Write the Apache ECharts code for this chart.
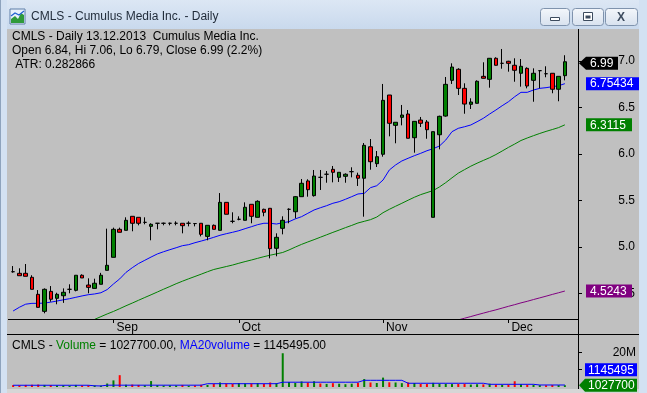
<!DOCTYPE html>
<html><head><meta charset="utf-8">
<script src="https://cdn.jsdelivr.net/npm/echarts@6/dist/echarts.min.js"></script>
<style>html,body{margin:0;padding:0;background:#c0c0c0;overflow:hidden}#c{width:647px;height:393px}</style>
</head><body><div id="c"></div>
<script>
const dates = [
'2013-08-09','2013-08-12','2013-08-13','2013-08-14','2013-08-15','2013-08-16','2013-08-19','2013-08-20','2013-08-21','2013-08-22','2013-08-23','2013-08-26','2013-08-27','2013-08-28','2013-08-29','2013-08-30',
'2013-09-03','2013-09-04','2013-09-05','2013-09-06','2013-09-09','2013-09-10','2013-09-11','2013-09-12','2013-09-13','2013-09-16','2013-09-17','2013-09-18','2013-09-19','2013-09-20','2013-09-23','2013-09-24','2013-09-25','2013-09-26','2013-09-27','2013-09-30',
'2013-10-01','2013-10-02','2013-10-03','2013-10-04','2013-10-07','2013-10-08','2013-10-09','2013-10-10','2013-10-11','2013-10-14','2013-10-15','2013-10-16','2013-10-17','2013-10-18','2013-10-21','2013-10-22','2013-10-23','2013-10-24','2013-10-25','2013-10-28','2013-10-29','2013-10-30','2013-10-31',
'2013-11-01','2013-11-04','2013-11-05','2013-11-06','2013-11-07','2013-11-08','2013-11-11','2013-11-12','2013-11-13','2013-11-14','2013-11-15','2013-11-18','2013-11-19','2013-11-20','2013-11-21','2013-11-22','2013-11-25','2013-11-26','2013-11-27','2013-11-29',
'2013-12-02','2013-12-03','2013-12-04','2013-12-05','2013-12-06','2013-12-09','2013-12-10','2013-12-11','2013-12-12','2013-12-13'];

const opens = [4.732,4.715,4.715,4.672,4.489,4.306,4.521,4.446,4.474,4.543,4.532,4.694,4.589,4.553,4.597,4.747,
4.887,5.188,5.177,5.328,5.317,5.263,5.220,5.253,5.253,5.253,5.253,5.253,5.253,5.250,5.253,5.112,5.231,5.177,5.478,5.274,
5.296,5.285,5.457,5.317,5.403,5.414,4.984,5.199,5.403,5.377,5.539,5.708,5.550,5.747,5.780,5.833,5.747,5.758,5.808,5.769,5.737,6.076,5.894,
5.995,6.632,6.306,6.392,6.428,6.173,6.363,6.342,5.317,6.205,6.406,6.790,6.909,6.704,6.532,6.543,6.833,6.801,7.027,6.973,
6.995,6.952,6.866,6.919,6.790,6.894,6.861,6.866,6.694,6.84];
const highs = [4.793,4.769,4.815,4.694,4.535,4.553,4.578,4.506,4.553,4.597,4.694,4.704,4.661,4.657,4.720,5.195,
5.206,5.206,5.317,5.328,5.317,5.317,5.253,5.253,5.260,5.260,5.274,5.253,5.274,5.253,5.253,5.231,5.240,5.578,5.478,5.371,
5.328,5.478,5.457,5.500,5.410,5.414,5.145,5.328,5.414,5.545,5.729,5.726,5.826,5.826,5.815,5.869,5.801,5.790,5.855,5.797,6.116,6.159,6.030,
6.751,6.632,6.340,6.525,6.471,6.349,6.396,6.363,6.238,6.410,6.826,6.973,6.920,6.758,6.597,6.790,6.984,7.030,7.038,7.127,
7.000,7.027,7.019,6.930,6.919,6.900,6.941,6.866,6.833,7.06];
const lows = [4.722,4.689,4.683,4.543,4.349,4.285,4.410,4.382,4.397,4.500,4.521,4.665,4.500,4.553,4.597,4.747,
4.887,5.156,5.177,5.167,5.231,5.242,5.070,5.188,5.231,5.231,5.231,5.145,5.220,5.220,5.112,5.070,5.188,5.177,5.350,5.253,
5.285,5.285,5.253,5.317,5.328,4.876,4.898,5.134,5.253,5.306,5.539,5.539,5.540,5.611,5.689,5.693,5.697,5.689,5.747,5.654,5.324,5.829,5.858,
5.969,6.188,6.113,6.306,6.167,6.012,6.288,6.162,5.317,6.048,6.399,6.751,6.632,6.431,6.482,6.540,6.810,6.711,6.950,6.915,
6.883,6.775,6.722,6.704,6.560,6.704,6.823,6.651,6.565,6.79];
const closes = [4.732,4.689,4.683,4.543,4.349,4.543,4.436,4.489,4.511,4.543,4.694,4.665,4.564,4.608,4.694,4.801,
5.188,5.156,5.285,5.253,5.253,5.263,5.242,5.253,5.253,5.253,5.253,5.227,5.253,5.250,5.134,5.231,5.188,5.478,5.350,5.274,
5.296,5.425,5.328,5.489,5.371,4.980,5.102,5.285,5.403,5.539,5.683,5.614,5.761,5.747,5.780,5.801,5.801,5.780,5.808,5.737,6.091,5.915,5.969,
6.575,6.328,6.339,6.417,6.167,6.349,6.328,6.259,6.238,6.403,6.747,6.933,6.704,6.535,6.557,6.780,6.812,7.027,6.952,6.973,
6.973,6.898,6.941,6.729,6.866,6.894,6.861,6.694,6.833,6.99];

const ma20 = [4.31,4.35,4.383,4.392,4.392,4.395,4.405,4.417,4.43,4.442,4.457,4.472,4.485,4.493,4.506,4.54,
4.60,4.655,4.725,4.775,4.82,4.855,4.89,4.923,4.947,4.969,4.99,5.012,5.023,5.044,5.062,5.081,5.102,5.124,5.141,5.156,
5.173,5.195,5.216,5.238,5.253,5.253,5.245,5.259,5.27,5.30,5.324,5.36,5.396,5.42,5.442,5.468,5.485,5.511,5.539,5.568,5.575,5.636,5.657,
5.718,5.826,5.88,5.923,5.952,5.98,6.005,6.033,6.055,6.084,6.148,6.238,6.274,6.291,6.31,6.345,6.382,6.428,6.471,6.517,
6.56,6.614,6.661,6.661,6.686,6.704,6.711,6.722,6.732,6.75434];
const ma50Start = 13;
const ma50Values = [4.22,4.249,4.278,
4.305,4.335,4.366,4.395,4.425,4.455,4.484,4.514,4.544,4.573,4.603,4.63,4.656,4.681,4.706,4.732,4.756,4.772,4.788,4.804,
4.823,4.841,4.858,4.876,4.894,4.91,4.924,4.939,4.966,4.997,5.026,5.052,5.077,5.103,5.129,5.155,5.18,5.206,5.23,5.256,5.274,5.292,5.32,
5.367,5.403,5.436,5.468,5.501,5.533,5.561,5.583,5.605,5.644,5.69,5.742,5.792,5.83,5.867,5.899,5.929,5.958,5.992,6.03,
6.069,6.105,6.143,6.17,6.195,6.219,6.241,6.261,6.282,6.3115];
const ma200Start = 71;
const ma200Values = [4.214,4.232,4.25,4.269,4.287,4.305,4.322,4.341,4.36,4.378,4.397,4.414,4.433,4.451,4.469,4.488,4.506,4.5243];

const volumes = [1.1,1.0,1.2,1.3,1.4,1.2,1.1,0.9,1.0,0.8,1.2,0.9,1.0,0.9,0.8,2.0,
3.8,6.8,1.3,1.4,1.2,1.0,3.4,1.1,0.9,1.0,0.9,1.2,0.8,0.9,1.3,1.2,1.9,2.6,2.1,1.8,
2.3,2.0,2.1,2.3,1.8,2.6,2.2,19.4,2.9,2.4,3.2,2.6,3.3,2.0,1.8,2.2,1.9,1.6,1.9,2.4,4.6,2.6,2.3,
5.4,2.7,2.6,2.2,2.6,2.3,1.8,1.7,2.4,2.0,1.9,1.7,1.8,1.9,1.4,1.6,1.5,1.9,1.4,1.3,
1.5,3.3,1.6,1.4,1.3,1.1,1.0,1.2,1.1,1.0277];
const volMa20 = [1.0,1.0,1.0,1.0,1.0,1.0,1.0,1.0,1.0,1.0,1.0,1.0,1.0,0.7,0.6,1.05,
1.05,1.05,1.05,1.05,1.05,1.05,1.05,1.05,1.05,1.05,1.05,1.05,1.05,1.05,1.05,1.9,1.9,1.9,1.9,1.9,
1.9,1.9,1.9,1.9,1.9,1.9,1.9,2.75,2.75,2.75,2.75,2.75,2.75,2.75,2.75,2.75,2.75,2.75,2.75,2.75,3.85,3.85,3.85,
3.85,3.85,3.85,3.85,2.15,2.15,2.15,2.15,2.15,2.15,2.15,2.15,2.15,2.15,2.15,2.15,2.15,1.55,1.55,1.55,
1.55,1.55,1.55,1.55,1.55,1.15,1.15,1.15,1.15,1.145495];

const priceTicks = [4.5,5.0,5.5,6.0,6.5,7.0];
const volTicks = [10,20];
const volLabels = [20];
const monthStarts = ['2013-09-03','2013-10-01','2013-11-01','2013-12-02'];
const monthNames = ['Sep','Oct','Nov','Dec'];

const FONT = 'Liberation Sans, Arial, sans-serif';
const ma50 = new Array(ma50Start).fill(null).concat(ma50Values);
const ma200 = new Array(ma200Start).fill(null).concat(ma200Values);
const candles = dates.map((d,i)=>[opens[i],closes[i],lows[i],highs[i]]);
const volData = volumes.map((v,i)=>{
  let up;
  if (closes[i] !== opens[i]) up = closes[i] > opens[i];
  else up = i > 0 ? closes[i] >= closes[i-1] : false;
  return {value: v, itemStyle:{color: up ? '#008000' : '#ff0000'}};
});

const chart = echarts.init(document.getElementById('c'));
const isMonth = (i, v) => monthStarts.indexOf(v) >= 0;
chart.setOption({
  animation:false,
  backgroundColor:'#c0c0c0',
  grid:[
    {left:10, top:29, width:558, height:290},
    {left:10, top:334.5, width:558, height:52.5}
  ],
  xAxis:[
    {type:'category', gridIndex:0, data:dates, boundaryGap:true,
     axisLine:{show:false},
     axisTick:{show:true, alignWithLabel:true, interval:isMonth, length:4, lineStyle:{color:'#000'}},
     axisLabel:{interval:isMonth, formatter:v=>monthNames[monthStarts.indexOf(v)], align:'left', padding:[0,0,0,3], margin:3, color:'#000', fontSize:12, fontFamily:FONT},
     splitLine:{show:false}},
    {type:'category', gridIndex:1, data:dates, boundaryGap:true,
     axisLine:{show:false}, axisTick:{show:false}, axisLabel:{show:false}, splitLine:{show:false}}
  ],
  yAxis:[
    {type:'value', gridIndex:0, position:'right', offset:10, min:4.2237, max:7.342, scale:true,
     axisLine:{show:false}, splitLine:{show:false},
     axisTick:{show:true, customValues:priceTicks, length:4, lineStyle:{color:'#000'}},
     axisLabel:{customValues:priceTicks, formatter:v=>v.toFixed(1), align:'right', margin:57, color:'#000', fontSize:12, fontFamily:FONT}},
    {type:'value', gridIndex:1, position:'right', offset:10, min:0, max:30.17,
     axisLine:{show:false}, splitLine:{show:false},
     axisTick:{show:true, customValues:volTicks, length:4, lineStyle:{color:'#000'}},
     axisLabel:{customValues:volLabels, formatter:v=>v+'M', align:'right', margin:58, color:'#000', fontSize:12, fontFamily:FONT}}
  ],
  series:[
    {type:'line', name:'MA20', xAxisIndex:0, yAxisIndex:0, data:ma20, symbol:'none', z:2, lineStyle:{color:'#0000ff', width:1}},
    {type:'line', name:'MA50', xAxisIndex:0, yAxisIndex:0, data:ma50, symbol:'none', z:2, lineStyle:{color:'#008000', width:1}},
    {type:'line', name:'MA200', xAxisIndex:0, yAxisIndex:0, data:ma200, symbol:'none', z:2, lineStyle:{color:'#800080', width:1}},
    {type:'candlestick', xAxisIndex:0, yAxisIndex:0, data:candles, barWidth:4, z:3,
     itemStyle:{color:'#008000', color0:'#ff0000', borderColor:'#000', borderColor0:'#000', borderColorDoji:'#000', borderWidth:1}},
    {type:'bar', xAxisIndex:1, yAxisIndex:1, data:volData, barWidth:2, z:2},
    {type:'line', xAxisIndex:1, yAxisIndex:1, data:volMa20, symbol:'none', z:3, lineStyle:{color:'#0000ff', width:1}}
  ]
});

const yP = v => chart.convertToPixel({yAxisIndex:0}, v);
const yV = v => chart.convertToPixel({yAxisIndex:1}, v);
const G = [];
// window chrome
G.push({type:'rect', shape:{x:0,y:0,width:647,height:29}, z:-5,
  style:{fill:new echarts.graphic.LinearGradient(0,0,0,1,[{offset:0,color:'#dce7f4'},{offset:1,color:'#c9d9ed'}])}});
G.push({type:'rect', shape:{x:0,y:0,width:7,height:393}, z:-5, style:{fill:'#d3e1f2'}});
G.push({type:'rect', shape:{x:639,y:0,width:8,height:393}, z:-5, style:{fill:'#d3e1f2'}});
G.push({type:'rect', shape:{x:7,y:389,width:632,height:4}, z:-5, style:{fill:'#d6d6d6'}});
G.push({type:'line', shape:{x1:0.5,y1:0,x2:0.5,y2:393}, z:-4, style:{stroke:'#8ea3bd', lineWidth:1}});
// icon
G.push({type:'rect', shape:{x:10,y:9,width:15,height:15}, z:1, style:{fill:'#e8f0fb', stroke:'#5f7fa8', lineWidth:1}});
G.push({type:'polygon', shape:{points:[[11,23],[11,19],[15,16],[18,19],[21,13],[24,15],[24,23]]}, z:2, style:{fill:'#2f9a3a'}});
G.push({type:'polyline', shape:{points:[[11,16],[15,13],[19,15],[24,11]]}, z:2, style:{stroke:'#2060d0', lineWidth:1.2, fill:null}});
G.push({type:'text', x:31, y:17, z:5, style:{text:'CMLS - Cumulus Media Inc. - Daily', fill:'#1f2a38', font:'12px '+FONT, verticalAlign:'middle', textVerticalAlign:'middle'}});
// buttons
[[540,29],[572,31],[605,32]].forEach(([bx,bw])=>{
  G.push({type:'rect', shape:{x:bx+0.5,y:8.5,width:bw,height:17,r:3}, z:1,
    style:{fill:new echarts.graphic.LinearGradient(0,0,0,1,[{offset:0,color:'#f4f7fb'},{offset:1,color:'#d7e1ee'}]), stroke:'#7f93ad', lineWidth:1}});
});
G.push({type:'rect', shape:{x:550.5,y:17.5,width:9,height:3}, z:2, style:{fill:'#fff', stroke:'#3c4b5e', lineWidth:1}});
G.push({type:'rect', shape:{x:583.5,y:12.5,width:9,height:8}, z:2, style:{fill:'#fff', stroke:'#3c4b5e', lineWidth:1}});
G.push({type:'rect', shape:{x:585.5,y:15.5,width:5,height:3}, z:3, style:{fill:'#3c4b5e'}});
G.push({type:'text', x:621, y:17.5, z:2, style:{text:'X', fill:'#3c4b5e', font:'bold 12px '+FONT, align:'center', textAlign:'center', verticalAlign:'middle', textVerticalAlign:'middle'}});
// chart frame lines
G.push({type:'line', shape:{x1:8,y1:319.5,x2:578,y2:319.5}, z:10, style:{stroke:'#000', lineWidth:1}});
G.push({type:'line', shape:{x1:578.5,y1:29,x2:578.5,y2:389}, z:10, style:{stroke:'#000', lineWidth:1}});
G.push({type:'line', shape:{x1:7,y1:334.5,x2:639,y2:334.5}, z:10, style:{stroke:'#000', lineWidth:1}});
// price panel texts
const txt = (t,x,y)=>({type:'text', x, y, z:20, style:{text:t, fill:'#000', font:'12px '+FONT, verticalAlign:'middle', textVerticalAlign:'middle'}});
G.push(txt('CMLS - Daily 13.12.2013  Cumulus Media Inc.', 12, 37));
G.push(txt('Open '+opens[88].toFixed(2)+', Hi '+highs[88].toFixed(2)+', Lo '+lows[88].toFixed(2)+', Close '+closes[88].toFixed(2)+' (2.2%)', 12, 51));
G.push(txt(' ATR: 0.282866', 12, 65));
// volume title
G.push({type:'text', x:12, y:346, z:20, style:{
  text:'{k|CMLS - }{g|Volume}{k| = '+(volumes[88]*1e6).toFixed(2)+', }{b|MA20volume}{k| = '+(volMa20[88]*1e6).toFixed(2)+'}',
  font:'12px '+FONT, verticalAlign:'middle', textVerticalAlign:'middle',
  rich:{k:{fill:'#000', color:'#000', font:'12px '+FONT}, g:{fill:'#008000', color:'#008000', font:'12px '+FONT}, b:{fill:'#0000ff', color:'#0000ff', font:'12px '+FONT}}}});
// value tags
function tag(x1,x2,yc,fill,text,tip,tx){
  const h=13, t=yc-h/2;
  if (tip) G.push({type:'polygon', z:30, shape:{points:[[tip,yc],[x1,t],[x2,t],[x2,t+h],[x1,t+h]]}, style:{fill}});
  else G.push({type:'rect', z:30, shape:{x:x1,y:t,width:x2-x1,height:h}, style:{fill}});
  G.push({type:'text', x:tx||590, y:yc+0.5, z:31, style:{text, fill:'#fff', font:'12px '+FONT, verticalAlign:'middle', textVerticalAlign:'middle'}});
}
tag(586,618,yP(closes[88])+1.5,'#000',closes[88].toFixed(2),579);
tag(586,639,yP(ma20[88]),'#0000ff',String(ma20[88]));
tag(586,632,yP(ma50Values[ma50Values.length-1]),'#008000',String(ma50Values[ma50Values.length-1]));
tag(586,632,yP(ma200Values[ma200Values.length-1]),'#800080',String(ma200Values[ma200Values.length-1]));
const vY = yV(volumes[88]);
tag(585,637,vY,'#008000',String(Math.round(volumes[88]*1e6)),579,588);
tag(585,637,vY-15.5,'#0000ff',String(Math.round(volMa20[88]*1e6)),null,588);
chart.setOption({graphic:G});
</script></body></html>
